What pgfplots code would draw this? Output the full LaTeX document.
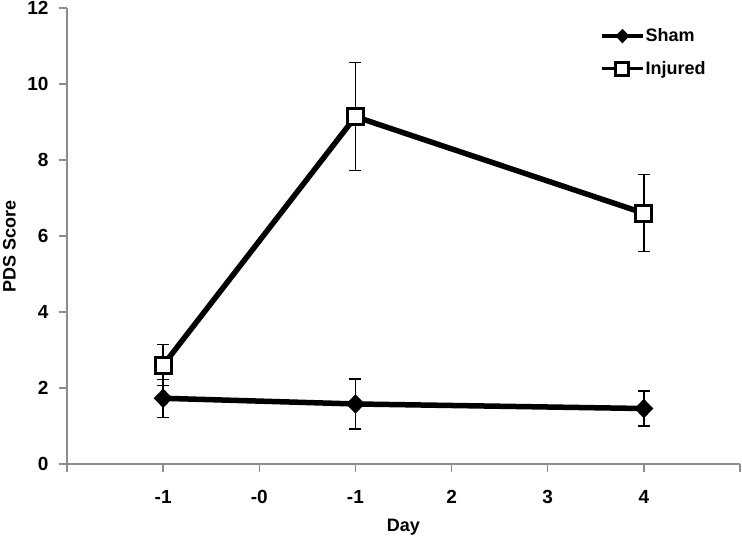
\documentclass[border=0pt]{standalone}
\usepackage{fontspec}
\setmainfont{Liberation Sans}
\usepackage{pgfplots}
\pgfplotsset{compat=1.18}
\definecolor{axgray}{RGB}{140,140,140}
\begin{document}
\begin{tikzpicture}
\path[use as bounding box] (-67pt,-78pt) rectangle (675pt,464pt);
\begin{axis}[
  at={(0pt,0pt)}, anchor=south west,
  scale only axis,
  width=673pt, height=456pt,
  xmin=0, xmax=7, ymin=0, ymax=12,
  axis lines=left,
  axis line style={-, axgray, line width=1.5pt},
  tick style={axgray, line width=1.5pt},
  tick align=outside,
  major tick length=8pt,
  xtick={0,1,2,3,4,5,6,7},
  xticklabels={,-1,-0,-1,2,3,4,},
  ytick={0,2,4,6,8,10,12},
  /pgf/number format/assume math mode=true,
  ticklabel style={font=\bfseries\fontsize{19}{22}\selectfont},
  yticklabel style={xshift=-7pt},
  xticklabel style={yshift=-15pt},
  label style={font=\bfseries\fontsize{18}{21}\selectfont},
  xlabel={Day},
  xlabel style={at={(axis description cs:0.5,0)}, anchor=base, yshift=-67pt},
  ylabel={PDS Score},
  ylabel style={at={(rel axis cs:-0.0765,0.478)}, anchor=base},
  clip=false,
  legend style={draw=none, fill=none, at={(axis description cs:0.792,0.957)}, anchor=north west,
    inner sep=0pt, row sep=16pt, font=\bfseries\fontsize{18}{21}\selectfont,
    nodes={inner sep=1pt}},
  legend cell align=left,
  legend image code/.code={\draw[#1, line width=3.5pt, mark size=6.5pt, mark repeat=2, mark phase=2] plot coordinates {(0pt,0pt) (20.5pt,0pt) (41pt,0pt)};},
]
\addplot+[black, line width=5.5pt, mark=diamond*, mark size=9pt,
  mark options={solid, fill=black, line width=1pt, xscale=1.3},
  error bars/.cd, y dir=both, y explicit,
  error bar style={line width=1.3pt, black},
  error mark options={rotate=90, mark size=6pt, line width=1.3pt, black}]
  coordinates {(1,1.73) +- (0,0.50) (3,1.58) +- (0,0.66) (6,1.46) +- (0,0.46)};
\addlegendentry{Sham}
\addplot+[black, line width=5.5pt, mark=square*, mark size=8pt,
  mark options={solid, fill=white, line width=3pt},
  error bars/.cd, y dir=both, y explicit,
  error bar style={line width=1.3pt, black},
  error mark options={rotate=90, mark size=6pt, line width=1.3pt, black}]
  coordinates {(1,2.60) +- (0,0.54) (3,9.14) +- (0,1.42) (6,6.60) +- (0,1.01)};
\addlegendentry{Injured}
\end{axis}
\end{tikzpicture}
\end{document}
